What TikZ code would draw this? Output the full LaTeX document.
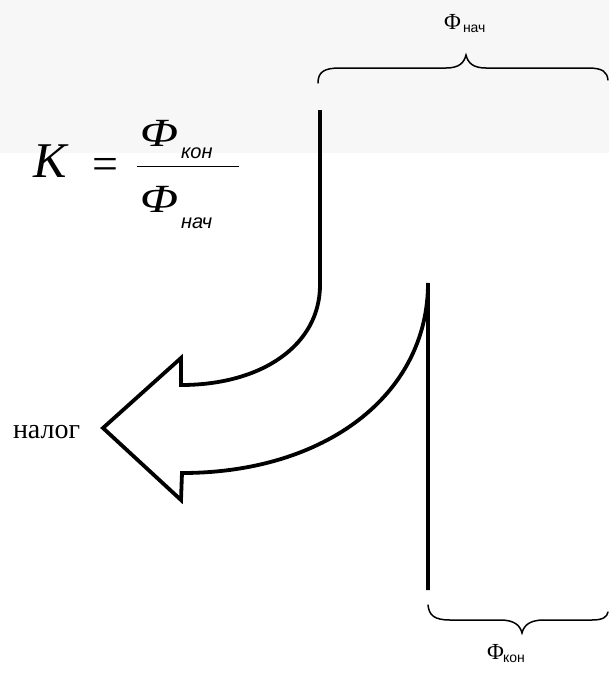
\documentclass[tikz,border=0pt]{standalone}
\usepackage{fontspec}
\usepackage{graphicx}
\setmainfont{Liberation Serif}
\newfontfamily\sansf{Liberation Sans}
\begin{document}
\begin{tikzpicture}[x=1pt,y=-1pt,
  thickline/.style={line width=3.8pt,line join=miter,line cap=butt},
  bracestyle/.style={line width=1.5pt,line cap=round},
  txt/.style={inner sep=0pt,outer sep=0pt,anchor=base west}]
\useasboundingbox (0,0) rectangle (609,675);
\fill[black!3] (0,0) rectangle (609,153);
% formula
\node[txt,font=\fontsize{50}{50}\selectfont\itshape] (K) at (33,177) {K};
\node[txt,font=\fontsize{46}{46}\selectfont] (eq) at (92,179) {=};
\node[txt,font=\fontsize{40}{40}\selectfont\itshape] (fn) at (140,146) {\scalebox{1.25}[1]{Φ}};
\node[txt,font=\fontsize{20}{20}\selectfont\sansf\itshape] (fns) at (181,158) {кон};
\node[txt,font=\fontsize{40}{40}\selectfont\itshape] (fd) at (140,212) {\scalebox{1.25}[1]{Φ}};
\node[txt,font=\fontsize{20}{20}\selectfont\sansf\itshape] (fds) at (181,228) {нач};
\coordinate (fl1) at (137,166);
\coordinate (fl2) at (239,166);
\draw[line width=1pt] (fl1) -- (fl2);
% labels
\node[txt,font=\fontsize{23}{23}\selectfont] (top) at (444,29) {Φ};
\node[txt,font=\fontsize{14}{14}\selectfont\sansf] (tops) at (463,32) {нач};
\node[txt,font=\fontsize{23}{23}\selectfont] (bot) at (487,659) {Φ};
\node[txt,font=\fontsize{14}{14}\selectfont\sansf] (bots) at (503,662) {кон};
\node[txt,font=\fontsize{28}{28}\selectfont] (tax) at (13,438) {налог};
% arrow
\coordinate (a0) at (320,110);
\coordinate (a1) at (320,285);
\coordinate (a2) at (181,385);
\coordinate (a3) at (181,358);
\coordinate (tip) at (103,428);
\coordinate (a4) at (181,500);
\coordinate (a5) at (182,473);
\coordinate (a6) at (428,283);
\coordinate (a7) at (428,590);
\draw[thickline] (a0) -- (a1) .. controls (320,345) and (262,385) .. (a2)
  -- (a3) -- (tip) -- (a4) -- (a5)
  .. controls (325,473) and (428,395) .. (a6) -- (a7);
% top brace
\draw[bracestyle] (318,83) .. controls (318,72) and (324,68) .. (340,68)
  -- (446,68) .. controls (459,68) and (464,63) .. (466,55)
  .. controls (468,63) and (473,68) .. (486,68)
  -- (588,68) .. controls (603,68) and (607,72) .. (608,80);
% bottom brace
\draw[bracestyle] (428,605) .. controls (429,615) and (434,620) .. (450,620)
  -- (500,620) .. controls (514,620) and (520,625) .. (522,633)
  .. controls (524,625) and (530,620) .. (544,620)
  -- (592,620) .. controls (603,620) and (607,617) .. (608,612);
\end{tikzpicture}
\end{document}
